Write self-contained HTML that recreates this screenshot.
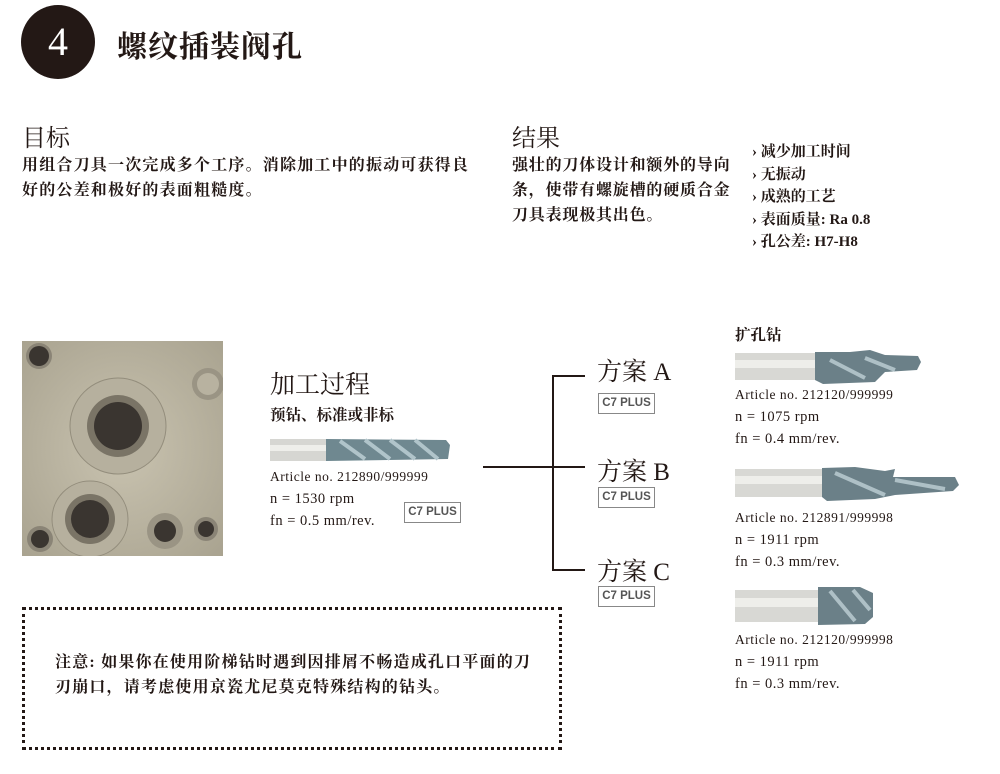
<!DOCTYPE html>
<html><head><meta charset="utf-8">
<style>
body{margin:0;width:1000px;height:774px;background:#fff;position:relative;overflow:hidden;font-family:"Liberation Serif","Noto Serif CJK SC",serif;color:#231815}
.a{position:absolute;white-space:nowrap}
.cn{font-family:"Liberation Serif","Noto Serif CJK SC",serif}
.body{font-size:16px;letter-spacing:1.2px;line-height:25px;font-weight:bold}
.h{font-size:24px}
.sm{font-size:13.5px;letter-spacing:0.5px;line-height:22px}
.c7{position:absolute;border:1px solid #888;font-family:"Liberation Sans",sans-serif;font-weight:bold;font-size:11.5px;color:#555;width:55px;height:19px;line-height:19px;text-align:center}
.ln{position:absolute;background:#231815}
</style></head><body>
<div class="a" style="left:21px;top:5px;width:74px;height:74px;border-radius:50%;background:#231815"></div>
<div class="a" style="left:21px;top:17px;width:74px;text-align:center;color:#fff;font-size:40px;line-height:50px">4</div>
<div class="a cn" style="left:117px;top:22px;font-size:30px;letter-spacing:1px;font-weight:bold">螺纹插装阀孔</div>

<div class="a cn h" style="left:22px;top:118px">目标</div>
<div class="a cn body" style="left:22px;top:153px">用组合刀具一次完成多个工序。消除加工中的振动可获得良<br>好的公差和极好的表面粗糙度。</div>

<div class="a cn h" style="left:512px;top:118px">结果</div>
<div class="a cn body" style="left:512px;top:153px;letter-spacing:0.8px">强壮的刀体设计和额外的导向<br>条，使带有螺旋槽的硬质合金<br>刀具表现极其出色。</div>
<div class="a cn" style="left:752px;top:141px;font-size:15px;line-height:22.5px;font-weight:bold">› 减少加工时间<br>› 无振动<br>› 成熟的工艺<br>› 表面质量: Ra 0.8<br>› 孔公差: H7-H8</div>

<svg class="a" style="left:22px;top:341px" width="201" height="215">
<defs><radialGradient id="g" cx="0.5" cy="0.5" r="0.7"><stop offset="0" stop-color="#c9c3b0"/><stop offset="1" stop-color="#a9a390"/></radialGradient></defs>
<rect width="201" height="215" fill="url(#g)"/>
<circle cx="17" cy="15" r="13" fill="#8a8476"/><circle cx="17" cy="15" r="10" fill="#3a3530"/>
<circle cx="186" cy="43" r="16" fill="#9a9484"/><circle cx="186" cy="43" r="11" fill="#b8b2a0"/>
<circle cx="96" cy="85" r="48" fill="#b6b09e" stroke="#938d7c"/><circle cx="96" cy="85" r="31" fill="#7a7466"/><circle cx="96" cy="85" r="24" fill="#3a3530"/>
<circle cx="68" cy="178" r="38" fill="#b6b09e" stroke="#938d7c"/><circle cx="68" cy="178" r="25" fill="#7a7466"/><circle cx="68" cy="178" r="19" fill="#3a3530"/>
<circle cx="143" cy="190" r="18" fill="#9a9484"/><circle cx="143" cy="190" r="11" fill="#3a3530"/>
<circle cx="184" cy="188" r="12" fill="#8a8476"/><circle cx="184" cy="188" r="8" fill="#3a3530"/>
<circle cx="18" cy="198" r="13" fill="#8a8476"/><circle cx="18" cy="198" r="9" fill="#3a3530"/>
</svg>

<div class="a cn" style="left:270px;top:365px;font-size:25px">加工过程</div>
<div class="a cn" style="left:270px;top:403px;font-size:15.5px;font-weight:bold">预钻、标准或非标</div>
<svg class="a" style="left:270px;top:437px" width="182" height="27">
<rect x="0" y="2" width="56" height="22" fill="#d6d6d2"/><rect x="0" y="8" width="56" height="6" fill="#eeeeea"/>
<polygon points="56,2 176,3 180,8 178,22 56,24" fill="#6f8890"/>
<path d="M70,4 L95,22 M95,3 L120,22 M120,3 L145,22 M145,3 L168,22" stroke="#b0c4ca" stroke-width="4"/>
</svg>
<div class="a sm" style="left:270px;top:466px">Article no. 212890/999999</div>
<div class="a" style="left:270px;top:488px;font-size:14.5px;line-height:22px;letter-spacing:0.5px">n = 1530 rpm<br>fn = 0.5 mm/rev.</div>
<div class="c7" style="left:404px;top:502px">C7 PLUS</div>

<div class="ln" style="left:483px;top:466px;width:70px;height:2px"></div>
<div class="ln" style="left:552px;top:375px;width:2px;height:196px"></div>
<div class="ln" style="left:552px;top:375px;width:33px;height:2px"></div>
<div class="ln" style="left:552px;top:466px;width:33px;height:2px"></div>
<div class="ln" style="left:552px;top:569px;width:33px;height:2px"></div>

<div class="a cn" style="left:597px;top:352px;font-size:25px">方案 A</div>
<div class="c7" style="left:598px;top:393px">C7 PLUS</div>
<div class="a cn" style="left:597px;top:452px;font-size:25px">方案 B</div>
<div class="c7" style="left:598px;top:487px">C7 PLUS</div>
<div class="a cn" style="left:597px;top:552px;font-size:25px">方案 C</div>
<div class="c7" style="left:598px;top:586px">C7 PLUS</div>

<div class="a cn" style="left:735px;top:323px;font-size:15.5px;font-weight:bold">扩孔钻</div>
<svg class="a" style="left:735px;top:350px" width="190" height="35">
<rect x="0" y="3" width="80" height="27" fill="#d8d8d4"/><rect x="0" y="10" width="80" height="8" fill="#eeeeea"/>
<polygon points="80,2 115,2 135,0 150,5 183,6 186,12 182,20 150,22 140,32 88,34 80,30" fill="#6b8088"/>
<path d="M95,10 L130,28 M130,8 L160,20" stroke="#aec0c6" stroke-width="4"/>
</svg>
<div class="a sm" style="left:735px;top:384px">Article no. 212120/999999</div>
<div class="a" style="left:735px;top:406px;font-size:14.5px;line-height:22px;letter-spacing:0.5px">n = 1075 rpm<br>fn = 0.4 mm/rev.</div>

<svg class="a" style="left:735px;top:465px" width="228" height="38">
<rect x="0" y="4" width="87" height="28" fill="#d8d8d4"/><rect x="0" y="11" width="87" height="8" fill="#eeeeea"/>
<polygon points="87,3 120,2 150,6 160,4 158,12 220,12 224,20 218,26 160,30 140,34 92,36 87,32" fill="#6b8088"/>
<path d="M100,8 L150,30 M160,15 L210,24" stroke="#aec0c6" stroke-width="4"/>
</svg>
<div class="a sm" style="left:735px;top:507px">Article no. 212891/999998</div>
<div class="a" style="left:735px;top:529px;font-size:14.5px;line-height:22px;letter-spacing:0.5px">n = 1911 rpm<br>fn = 0.3 mm/rev.</div>

<svg class="a" style="left:735px;top:585px" width="142" height="42">
<rect x="0" y="5" width="83" height="32" fill="#d8d8d4"/><rect x="0" y="13" width="83" height="9" fill="#eeeeea"/>
<polygon points="83,2 125,2 138,8 138,32 130,39 83,40" fill="#6b8088"/>
<path d="M95,6 L120,36 M118,5 L135,25" stroke="#aec0c6" stroke-width="4"/>
</svg>
<div class="a sm" style="left:735px;top:629px">Article no. 212120/999998</div>
<div class="a" style="left:735px;top:651px;font-size:14.5px;line-height:22px;letter-spacing:0.5px">n = 1911 rpm<br>fn = 0.3 mm/rev.</div>

<div class="a" style="left:22px;top:607px;width:534px;height:137px;border:3px dotted #231815"></div>
<div class="a cn body" style="left:55px;top:650px">注意: 如果你在使用阶梯钻时遇到因排屑不畅造成孔口平面的刀<br>刃崩口，请考虑使用京瓷尤尼莫克特殊结构的钻头。</div>
</body></html>
